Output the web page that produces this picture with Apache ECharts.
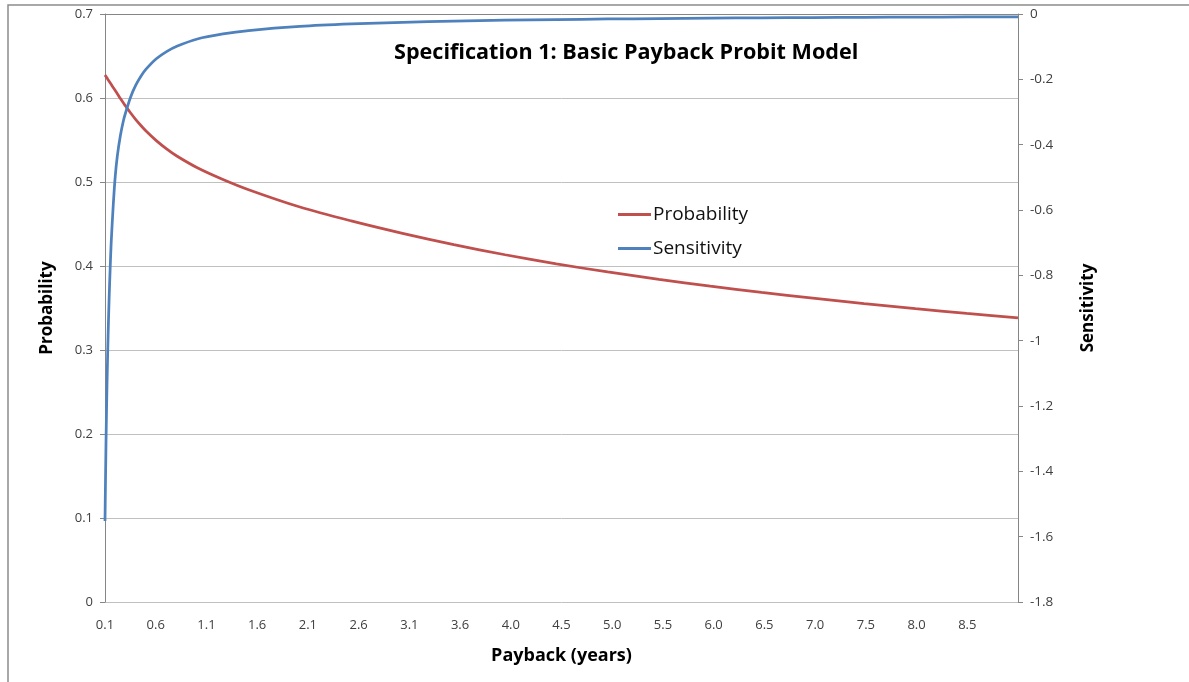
<!DOCTYPE html>
<html>
<head>
<meta charset="utf-8">
<title>Specification 1: Basic Payback Probit Model</title>
<script src="https://cdn.jsdelivr.net/npm/echarts@6/dist/echarts.min.js"></script>
<style>
  html, body { margin: 0; padding: 0; background: #ffffff; }
  #chart { width: 1189px; height: 682px; }
</style>
</head>
<body>
<div id="chart"></div>
<script>
// Payback period (years) at which each curve value is given
const payback = [
  0.10, 0.11, 0.12, 0.13, 0.14, 0.15, 0.16, 0.18, 0.20, 0.22, 0.25, 0.28, 0.30,
  0.35, 0.40, 0.45, 0.50, 0.60, 0.70, 0.80, 1.00, 1.25, 1.50,
  2.00, 2.50, 3.00, 3.50, 4.00, 4.50, 5.00, 5.50, 6.00, 6.50, 7.00, 7.50, 8.00, 8.50, 9.00
];

// Predicted probability (left axis)
const probability = [
  0.6274, 0.6255, 0.6237, 0.6218, 0.6200, 0.6181, 0.6163, 0.6125, 0.6088, 0.6051, 0.5993, 0.5940, 0.5905,
  0.5821, 0.5743, 0.5673, 0.5607, 0.5493, 0.5395, 0.5310, 0.5170, 0.5030, 0.4908,
  0.4702, 0.4537, 0.4389, 0.4255, 0.4134, 0.4026, 0.3929, 0.3841, 0.3760, 0.3685, 0.3618, 0.3553, 0.3492, 0.3435, 0.3382
];

// Sensitivity of the probability to payback (right axis)
const sensitivity = [
  -1.552, -1.307, -1.126, -0.986, -0.873, -0.782, -0.702, -0.587, -0.496, -0.435, -0.372, -0.326, -0.303,
  -0.254, -0.218, -0.1905, -0.169, -0.137, -0.115, -0.0987, -0.0764, -0.0611, -0.0509,
  -0.0382, -0.0306, -0.0255, -0.0218, -0.0191, -0.0170, -0.0153, -0.0139, -0.0127, -0.0118, -0.0109, -0.0102, -0.0096, -0.0090, -0.0085
];

// Category labels printed under the horizontal axis
const xTickLabels = [
  '0.1', '0.6', '1.1', '1.6', '2.1', '2.6', '3.1', '3.6', '4.0',
  '4.5', '5.0', '5.5', '6.0', '6.5', '7.0', '7.5', '8.0', '8.5'
];

const FONT = '"Open Sans", Lato, sans-serif';
const AXIS_GREY = '#868686';
const GRID_GREY = '#c0c0c0';
const LABEL_COLOR = '#404040';

const chart = echarts.init(document.getElementById('chart'), null, { renderer: 'canvas' });

chart.setOption({
  animation: false,
  backgroundColor: '#ffffff',
  textStyle: { fontFamily: FONT },
  title: {
    text: 'Specification 1: Basic Payback Probit Model',
    left: 389,
    top: 37,
    textStyle: { fontFamily: FONT, fontWeight: 'bold', fontSize: 21.6, color: '#000000' }
  },
  legend: {
    orient: 'vertical',
    left: 613,
    top: 200,
    icon: 'rect',
    itemWidth: 33,
    itemHeight: 3,
    itemGap: 15,
    textStyle: { fontFamily: FONT, fontSize: 19, color: '#111111', padding: [0, 0, 0, -3] },
    data: ['Probability', 'Sensitivity']
  },
  graphic: [{
    type: 'polyline',
    shape: { points: [[8, 682], [8, 5], [1189, 5]] },
    style: { stroke: '#8c8c8c', lineWidth: 1.5, fill: null },
    silent: true
  }],
  grid: { left: 105, right: 171, top: 14, bottom: 80, containLabel: false },
  xAxis: [
    {
      // value scale that places the points
      type: 'value',
      min: 0.1,
      max: 9.0,
      show: false
    },
    {
      // printed category labels
      type: 'category',
      position: 'bottom',
      boundaryGap: false,
      data: xTickLabels.concat(['']),
      axisLine: { show: true, lineStyle: { color: AXIS_GREY, width: 1 } },
      axisTick: { show: false },
      axisLabel: { interval: 0, margin: 17, color: LABEL_COLOR, fontSize: 13, fontFamily: FONT },
      splitLine: { show: false },
      name: 'Payback (years)',
      nameLocation: 'middle',
      nameGap: 45,
      nameTextStyle: { fontFamily: FONT, fontWeight: 'bold', fontSize: 18, color: '#000000' }
    }
  ],
  yAxis: [
    {
      type: 'value',
      min: 0,
      max: 0.7,
      interval: 0.1,
      position: 'left',
      axisLine: { show: true, lineStyle: { color: AXIS_GREY, width: 1 } },
      axisTick: { show: true, length: 5, lineStyle: { color: AXIS_GREY } },
      axisLabel: { margin: 12, color: LABEL_COLOR, fontSize: 13, fontFamily: FONT },
      splitLine: { show: true, lineStyle: { color: GRID_GREY, width: 1 } },
      name: 'Probability',
      nameLocation: 'middle',
      nameGap: 49,
      nameTextStyle: { fontFamily: FONT, fontWeight: 'bold', fontSize: 17, color: '#000000' }
    },
    {
      type: 'value',
      min: -1.8,
      max: 0,
      interval: 0.2,
      position: 'right',
      axisLine: { show: true, lineStyle: { color: AXIS_GREY, width: 1 } },
      axisTick: { show: true, length: 5, lineStyle: { color: AXIS_GREY } },
      axisLabel: { margin: 12, color: LABEL_COLOR, fontSize: 13.5, fontFamily: FONT },
      splitLine: { show: false },
      name: 'Sensitivity',
      nameLocation: 'middle',
      nameGap: 62,
      nameTextStyle: { fontFamily: FONT, fontWeight: 'bold', fontSize: 17, color: '#000000' }
    }
  ],
  series: [
    {
      name: 'Probability',
      type: 'line',
      xAxisIndex: 0,
      yAxisIndex: 0,
      data: payback.map((x, i) => [x, probability[i]]),
      symbol: 'none',
      showSymbol: false,
      smooth: 0.3,
      color: '#C0504D',
      lineStyle: { color: '#C0504D', width: 2.75 },
      z: 3
    },
    {
      name: 'Sensitivity',
      type: 'line',
      xAxisIndex: 0,
      yAxisIndex: 1,
      data: payback.map((x, i) => [x, sensitivity[i]]),
      symbol: 'none',
      showSymbol: false,
      smooth: 0.3,
      color: '#4F81BD',
      lineStyle: { color: '#4F81BD', width: 2.75 },
      z: 4
    }
  ]
});
</script>
</body>
</html>
